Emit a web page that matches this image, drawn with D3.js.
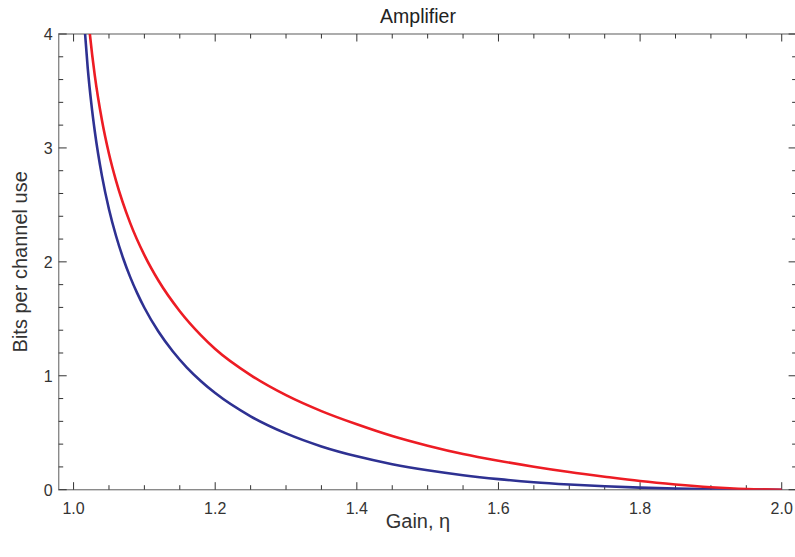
<!DOCTYPE html>
<html><head><meta charset="utf-8">
<script src="https://cdn.jsdelivr.net/npm/d3@7"></script>
<style>body{margin:0;background:#fff}svg{display:block}</style>
</head><body><svg id="c" width="795" height="557"></svg>
<script>
const title = "Amplifier";
const xLabel = "Gain, η";
const yLabel = "Bits per channel use";
const xDomain = [0.979, 2.021];
const yDomain = [0, 4];
const xMajorTicks = [1.0, 1.2, 1.4, 1.6, 1.8, 2.0];
const xMinorTicks = [1.05,1.1,1.15,1.25,1.3,1.35,1.45,1.5,1.55,1.65,1.7,1.75,1.85,1.9,1.95];
const yMajorTicks = [0, 1, 2, 3, 4];
const yMinorTicks = [0.2,0.4,0.6,0.8,1.2,1.4,1.6,1.8,2.2,2.4,2.6,2.8,3.2,3.4,3.6,3.8];

const blueX = [1.015,1.02,1.025,1.03,1.04,1.05,1.06,1.07,1.08,1.09,1.1,1.12,1.14,1.16,1.18,1.2,1.25,1.3,1.35,1.4,1.45,1.5,1.55,1.6,1.65,1.7,1.75,1.8,1.85,1.9,1.95,2.0];
const blueY = [4.102,3.701,3.393,3.144,2.757,2.462,2.227,2.032,1.866,1.723,1.597,1.386,1.215,1.072,0.952,0.848,0.644,0.494,0.380,0.293,0.224,0.170,0.127,0.093,0.066,0.046,0.030,0.018,0.0095,0.004,0.001,0];
const redX = [1.02,1.023,1.03,1.04,1.05,1.06,1.08,1.1,1.12,1.15,1.18,1.2,1.25,1.3,1.35,1.4,1.45,1.5,1.55,1.6,1.65,1.7,1.75,1.8,1.85,1.9,1.95,2.0];
const redY = [4.19,4.0,3.634,3.245,2.949,2.711,2.34,2.059,1.834,1.567,1.355,1.235,1.006,0.83,0.69,0.574,0.471,0.386,0.313,0.254,0.202,0.155,0.114,0.076,0.046,0.022,0.006,0];

const svg = d3.select("#c");
const L = 58.7, R = 796.6, T = 34, B = 489.7;
const x = d3.scaleLinear().domain(xDomain).range([L, R]);
const y = d3.scaleLinear().domain(yDomain).range([B, T]);
const frameCol = "#8a8a8a", tickCol = "#333", font = "Liberation Sans, Arial, Helvetica, sans-serif";

svg.append("defs").append("clipPath").attr("id","clip")
  .append("rect").attr("x",L).attr("y",T).attr("width",R-L).attr("height",B-T);

svg.append("rect").attr("x",L).attr("y",T).attr("width",R-L).attr("height",B-T)
  .attr("fill","none").attr("stroke",frameCol).attr("stroke-width",1.4);

const g = svg.append("g");
function xt(vals, len) {
  vals.forEach(v => {
    g.append("line").attr("x1",x(v)).attr("x2",x(v)).attr("y1",B).attr("y2",B-len).attr("stroke",tickCol).attr("stroke-width",1);
    g.append("line").attr("x1",x(v)).attr("x2",x(v)).attr("y1",T).attr("y2",T+len).attr("stroke",tickCol).attr("stroke-width",1);
  });
}
function yt(vals, len) {
  vals.forEach(v => {
    g.append("line").attr("y1",y(v)).attr("y2",y(v)).attr("x1",L).attr("x2",L+len).attr("stroke",tickCol).attr("stroke-width",1);
    g.append("line").attr("y1",y(v)).attr("y2",y(v)).attr("x1",R).attr("x2",R-len).attr("stroke",tickCol).attr("stroke-width",1);
  });
}
xt(xMajorTicks, 7.5); xt(xMinorTicks, 4.5);
yt(yMajorTicks, 8); yt(yMinorTicks, 4.5);

xMajorTicks.forEach(v => {
  g.append("text").attr("x",x(v)).attr("y",B+24).attr("text-anchor","middle")
    .attr("font-family",font).attr("font-size",16).attr("fill","#333").text(d3.format(".1f")(v));
});
yMajorTicks.forEach(v => {
  g.append("text").attr("x",L-6).attr("y",y(v)+6).attr("text-anchor","end")
    .attr("font-family",font).attr("font-size",16).attr("fill","#333").text(v);
});

const line = d3.line().x(d => x(d[0])).y(d => y(d[1])).curve(d3.curveMonotoneX);
const plot = svg.append("g").attr("clip-path","url(#clip)");
plot.append("path").datum(d3.zip(blueX, blueY)).attr("d", line)
  .attr("fill","none").attr("stroke","#2e3192").attr("stroke-width",2.6);
plot.append("path").datum(d3.zip(redX, redY)).attr("d", line)
  .attr("fill","none").attr("stroke","#ed1c24").attr("stroke-width",2.6);

svg.append("text").attr("x",418).attr("y",23).attr("text-anchor","middle")
  .attr("font-family",font).attr("font-size",19.5).attr("fill","#222").text(title);
svg.append("text").attr("x",418).attr("y",528).attr("text-anchor","middle")
  .attr("font-family",font).attr("font-size",20).attr("fill","#333").text(xLabel);
svg.append("text").attr("transform",`translate(27,${(T+B)/2}) rotate(-90)`).attr("text-anchor","middle")
  .attr("font-family",font).attr("font-size",20).attr("fill","#333").text(yLabel);
</script></body></html>
